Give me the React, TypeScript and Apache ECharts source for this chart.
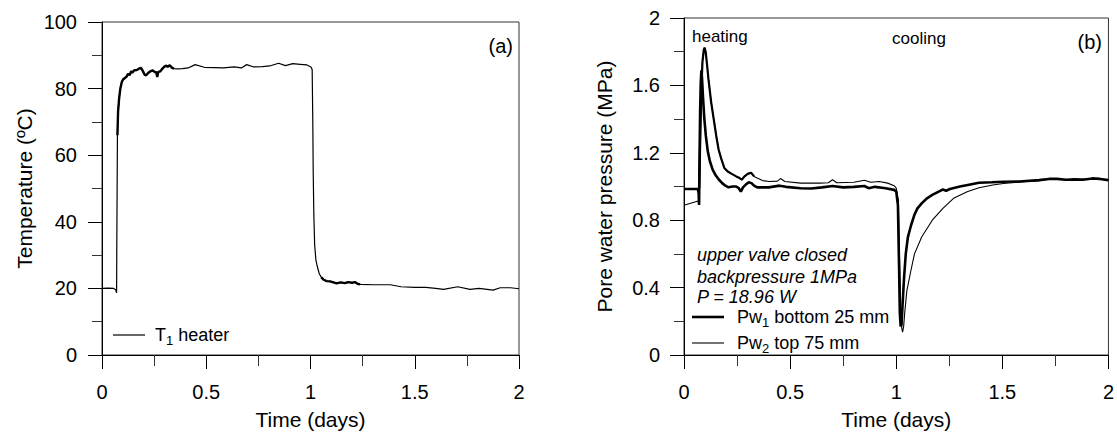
import React, { useEffect, useRef } from "react";
import * as echarts from "echarts";

// ---- data (time in days) ----
const dayRange = [0, 2];
const tempRange = [0, 100];
const pwRange = [0, 2];

// T1 heater temperature (ºC)
const t1Series: number[][] = [
  [0, 20.0], [0.03, 20.1], [0.056, 20.0], [0.066, 19.5], [0.07, 18.7], [0.071, 33],
  [0.074, 66], [0.077, 73], [0.082, 77], [0.088, 80], [0.095, 82], [0.102, 82.8],
  [0.11, 83.2], [0.118, 83.6], [0.125, 84.4], [0.133, 84.1], [0.14, 85.2], [0.145, 84.8],
  [0.155, 85.5], [0.167, 85.6], [0.175, 85.9], [0.187, 86.2], [0.195, 85.4], [0.204, 84.2],
  [0.212, 84.0], [0.22, 84.6], [0.232, 85.2], [0.243, 85.5], [0.252, 85.0], [0.26, 84.9],
  [0.265, 83.5], [0.27, 85.0], [0.28, 85.2], [0.286, 85.7], [0.296, 86.4], [0.306, 86.9],
  [0.315, 86.6], [0.325, 87.0], [0.335, 86.3], [0.345, 86.0], [0.362, 85.9], [0.385, 86.0],
  [0.413, 86.2], [0.447, 87.2], [0.49, 86.4], [0.54, 86.3], [0.583, 86.2], [0.634, 86.5],
  [0.668, 86.2], [0.694, 87.2], [0.728, 86.5], [0.77, 86.6], [0.804, 86.8], [0.847, 87.6],
  [0.88, 86.9], [0.915, 87.5], [0.95, 87.3], [0.983, 87.1], [1.002, 86.5], [1.008, 85.7],
  [1.011, 70], [1.013, 55], [1.016, 42], [1.02, 33], [1.026, 28.5], [1.033, 26.5],
  [1.042, 24.4], [1.052, 23.3], [1.063, 22.6], [1.078, 22.2], [1.094, 22.1], [1.11, 21.8],
  [1.125, 21.5], [1.145, 21.8], [1.165, 21.6], [1.18, 21.9], [1.2, 21.7], [1.213, 21.9],
  [1.225, 21.4], [1.238, 21.2], [1.3, 21.1], [1.383, 21.1], [1.434, 20.5], [1.5, 20.3],
  [1.553, 20.3], [1.6, 20.0], [1.638, 19.7], [1.706, 20.5], [1.765, 19.7], [1.808, 20.0],
  [1.876, 19.5], [1.91, 20.2], [1.96, 20.2], [2.0, 19.9],
];

// Pw1 bottom 25 mm (MPa)
const pw1Series: number[][] = [
  [0, 0.985], [0.03, 0.985], [0.065, 0.985], [0.069, 0.96], [0.071, 0.89], [0.073, 1.15],
  [0.076, 1.45], [0.079, 1.62], [0.082, 1.69], [0.085, 1.64], [0.09, 1.52], [0.096, 1.4],
  [0.103, 1.3], [0.112, 1.21], [0.122, 1.15], [0.135, 1.1], [0.15, 1.065], [0.165, 1.04],
  [0.18, 1.02], [0.195, 1.005], [0.21, 0.995], [0.23, 1.0], [0.246, 1.0], [0.258, 0.99],
  [0.268, 0.97], [0.278, 0.995], [0.29, 1.01], [0.305, 1.025], [0.318, 1.02], [0.33, 1.005],
  [0.345, 0.995], [0.4, 0.995], [0.45, 1.005], [0.48, 0.998], [0.55, 0.99], [0.6, 0.988],
  [0.65, 0.995], [0.7, 1.003], [0.75, 0.995], [0.8, 0.998], [0.85, 1.003], [0.87, 0.99],
  [0.9, 0.998], [0.95, 0.99], [0.99, 0.98], [1.0, 0.97], [1.008, 0.89], [1.013, 0.55],
  [1.017, 0.25], [1.021, 0.17], [1.025, 0.18], [1.03, 0.3], [1.037, 0.46], [1.045, 0.6],
  [1.055, 0.7], [1.07, 0.77], [1.086, 0.833], [1.1, 0.87], [1.12, 0.9], [1.145, 0.93],
  [1.17, 0.95], [1.2, 0.97], [1.22, 0.982], [1.235, 0.975], [1.253, 0.985], [1.3, 1.0],
  [1.337, 1.009], [1.39, 1.022], [1.45, 1.025], [1.505, 1.028], [1.58, 1.03], [1.673, 1.038],
  [1.72, 1.045], [1.757, 1.045], [1.8, 1.04], [1.84, 1.042], [1.88, 1.04], [1.924, 1.048],
  [1.96, 1.045], [2.0, 1.038],
];

// Pw2 top 75 mm (MPa)
const pw2Series: number[][] = [
  [0, 0.889], [0.035, 0.902], [0.071, 0.916], [0.072, 0.99], [0.076, 1.25], [0.081, 1.55],
  [0.087, 1.74], [0.093, 1.81], [0.097, 1.824], [0.102, 1.8], [0.108, 1.73], [0.115, 1.64],
  [0.128, 1.5], [0.14, 1.4], [0.152, 1.3], [0.163, 1.22], [0.175, 1.167], [0.19, 1.11],
  [0.206, 1.089], [0.225, 1.075], [0.246, 1.06], [0.262, 1.05], [0.272, 1.04], [0.285, 1.06],
  [0.3, 1.075], [0.316, 1.082], [0.33, 1.06], [0.345, 1.05], [0.37, 1.035], [0.403, 1.03],
  [0.44, 1.032], [0.455, 1.047], [0.475, 1.03], [0.55, 1.02], [0.64, 1.02], [0.68, 1.022],
  [0.7, 1.04], [0.72, 1.022], [0.8, 1.025], [0.85, 1.037], [0.88, 1.025], [0.92, 1.03],
  [0.96, 1.02], [0.99, 1.005], [1.0, 0.99], [1.01, 0.92], [1.016, 0.55], [1.022, 0.25],
  [1.026, 0.16], [1.03, 0.135], [1.035, 0.17], [1.04, 0.25], [1.05, 0.38], [1.069, 0.5],
  [1.086, 0.6], [1.12, 0.7], [1.17, 0.8], [1.22, 0.87], [1.27, 0.93], [1.337, 0.97],
  [1.39, 0.993], [1.455, 1.009], [1.505, 1.018], [1.6, 1.028], [1.673, 1.035], [1.72, 1.043],
  [1.757, 1.044], [1.8, 1.04], [1.84, 1.043], [1.924, 1.046], [1.96, 1.044], [2.0, 1.038],
];

// noisy (dense) stretches of the records, drawn heavier
const t1NoisyRanges = [[0.074, 0.345], [1.045, 1.24]];
const pw2NoisyRanges = [[0.072, 0.33]];

const FONT = "'Liberation Sans', Arial, Helvetica, sans-serif";

function axisCommon(extra: any) {
  return {
    type: "value",
    axisLine: { show: true, lineStyle: { color: "#000", width: 1 } },
    axisTick: { show: true, inside: false, length: 14, lineStyle: { color: "#000", width: 1 } },
    minorTick: { show: true, splitNumber: 2, length: 10, lineStyle: { color: "#333", width: 1 } },
    splitLine: { show: false },
    minorSplitLine: { show: false },
    axisLabel: { color: "#000", fontSize: 20, fontFamily: FONT },
    nameTextStyle: { color: "#000", fontSize: 21, fontFamily: FONT },
    nameLocation: "middle",
    ...extra,
  };
}

export default function App() {
  const ref = useRef<HTMLDivElement>(null);
  useEffect(() => {
    if (!ref.current) return;
    const chart = echarts.init(ref.current, undefined, { renderer: "svg" });
    const lineBase = { type: "line", showSymbol: false, symbol: "none", animation: false };
    const sub = { fontSize: 13, fontFamily: FONT, fill: "#000", padding: [10, 0, 0, 0] };
    const option: any = {
      animation: false,
      backgroundColor: "#fff",
      grid: [
        { left: 102, top: 22, width: 417, height: 337, show: true, borderColor: "#333", borderWidth: 1 },
        { left: 684, top: 18, width: 425, height: 341, show: true, borderColor: "#333", borderWidth: 1 },
      ],
      xAxis: [0, 1].map((g) =>
        axisCommon({ gridIndex: g, min: dayRange[0], max: dayRange[1], interval: 0.5, name: "Time (days)", nameGap: 54,
          axisLabel: { color: "#000", fontSize: 20, fontFamily: FONT, margin: 27 },
          minorTick: { show: true, splitNumber: 2, length: 11, lineStyle: { color: "#333", width: 1 } } })
      ),
      yAxis: [
        axisCommon({ gridIndex: 0, min: tempRange[0], max: tempRange[1], interval: 20, name: "Temperature (ºC)", nameGap: 67,
          axisLabel: { color: "#000", fontSize: 20, fontFamily: FONT, margin: 25 } }),
        axisCommon({ gridIndex: 1, min: pwRange[0], max: pwRange[1], interval: 0.4, name: "Pore water pressure (MPa)", nameGap: 69,
          axisLabel: { color: "#000", fontSize: 20, fontFamily: FONT, margin: 24 } }),
      ],
      series: [
        { ...lineBase, name: "T1 heater", xAxisIndex: 0, yAxisIndex: 0, data: t1Series, lineStyle: { color: "#000", width: 1.2 } },
        ...t1NoisyRanges.map((r) => ({
          ...lineBase, name: "T1 heater", xAxisIndex: 0, yAxisIndex: 0,
          data: t1Series.filter(([x]) => x >= r[0] && x <= r[1]),
          lineStyle: { color: "#000", width: 2.4 },
        })),
        { ...lineBase, name: "Pw2 top 75 mm", xAxisIndex: 1, yAxisIndex: 1, data: pw2Series, lineStyle: { color: "#000", width: 1.1 } },
        ...pw2NoisyRanges.map((r) => ({
          ...lineBase, name: "Pw2 top 75 mm", xAxisIndex: 1, yAxisIndex: 1,
          data: pw2Series.filter(([x]) => x >= r[0] && x <= r[1]),
          lineStyle: { color: "#000", width: 2.2 },
        })),
        { ...lineBase, name: "Pw1 bottom 25 mm", xAxisIndex: 1, yAxisIndex: 1, data: pw1Series, lineStyle: { color: "#000", width: 2.6 } },
      ],
      graphic: [
        // panel (a)
        { type: "text", x: 513, y: 46, style: { text: "(a)", fontSize: 20, fontFamily: FONT, fill: "#000", textAlign: "right", verticalAlign: "middle" } },
        { type: "line", shape: { x1: 113, y1: 335, x2: 145, y2: 335 }, style: { stroke: "#000", lineWidth: 1.2 } },
        { type: "text", x: 155, y: 335, style: {
          text: "T{sub|1} heater", fontSize: 18, fontFamily: FONT, fill: "#000", verticalAlign: "middle", rich: { sub } } },
        // panel (b)
        { type: "text", x: 1102, y: 42, style: { text: "(b)", fontSize: 20, fontFamily: FONT, fill: "#000", textAlign: "right", verticalAlign: "middle" } },
        { type: "text", x: 692, y: 36, style: { text: "heating", fontSize: 17, fontFamily: FONT, fill: "#000", verticalAlign: "middle" } },
        { type: "text", x: 892, y: 38, style: { text: "cooling", fontSize: 17, fontFamily: FONT, fill: "#000", verticalAlign: "middle" } },
        { type: "text", x: 697, y: 255, style: { text: "upper valve closed", fontSize: 18, fontStyle: "italic", fontFamily: FONT, fill: "#000", verticalAlign: "middle" } },
        { type: "text", x: 697, y: 276.5, style: { text: "backpressure 1MPa", fontSize: 18, fontStyle: "italic", fontFamily: FONT, fill: "#000", verticalAlign: "middle" } },
        { type: "text", x: 697, y: 297, style: { text: "P = 18.96 W", fontSize: 18, fontStyle: "italic", fontFamily: FONT, fill: "#000", verticalAlign: "middle" } },
        { type: "line", shape: { x1: 692, y1: 317, x2: 724, y2: 317 }, style: { stroke: "#000", lineWidth: 2.6 } },
        { type: "text", x: 737, y: 317, style: {
          text: "Pw{sub|1} bottom 25 mm", fontSize: 18, fontFamily: FONT, fill: "#000", verticalAlign: "middle", rich: { sub } } },
        { type: "line", shape: { x1: 692, y1: 343, x2: 724, y2: 343 }, style: { stroke: "#000", lineWidth: 1.1 } },
        { type: "text", x: 737, y: 343, style: {
          text: "Pw{sub|2} top 75 mm", fontSize: 18, fontFamily: FONT, fill: "#000", verticalAlign: "middle", rich: { sub } } },
      ],
    };
    chart.setOption(option);
    return () => chart.dispose();
  }, []);
  return <div ref={ref} style={{ position: "fixed", left: 0, top: 0, width: 1117, height: 435, background: "#fff" }} />;
}
